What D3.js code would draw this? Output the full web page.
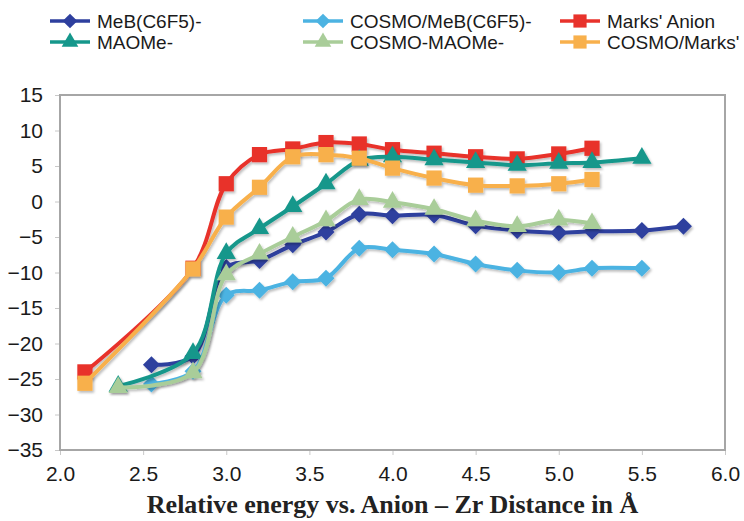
<!DOCTYPE html>
<html>
<head>
<meta charset="utf-8">
<script src="https://cdn.jsdelivr.net/npm/d3@7"></script>
<style>
  body { margin: 0; background: #fff; }
  text { font-family: "Liberation Sans", Arial, sans-serif; }
</style>
</head>
<body>
<div id="chart"></div>
<script>
// Series data (distance in Angstrom, relative energy)
var distMeB = [2.55, 2.8, 3.0, 3.2, 3.4, 3.6, 3.8, 4.0, 4.25, 4.5, 4.75, 5.0, 5.2, 5.5, 5.75];
var energyMeB = [-23.0, -21.8, -9.3, -8.3, -6.1, -4.3, -1.8, -2.0, -1.9, -3.4, -4.1, -4.4, -4.2, -4.1, -3.5];

var distCosmoMeB = [2.55, 2.8, 3.0, 3.2, 3.4, 3.6, 3.8, 4.0, 4.25, 4.5, 4.75, 5.0, 5.2, 5.5];
var energyCosmoMeB = [-25.7, -23.9, -13.2, -12.5, -11.3, -10.8, -6.6, -6.8, -7.4, -8.8, -9.7, -10.0, -9.4, -9.4];

var distMarks = [2.15, 2.8, 3.0, 3.2, 3.4, 3.6, 3.8, 4.0, 4.25, 4.5, 4.75, 5.0, 5.2];
var energyMarks = [-24.0, -9.4, 2.5, 6.6, 7.4, 8.3, 8.1, 7.3, 6.8, 6.3, 6.0, 6.7, 7.5];

var distMAOMe = [2.35, 2.8, 3.0, 3.2, 3.4, 3.6, 3.8, 4.0, 4.25, 4.5, 4.75, 5.0, 5.2, 5.5];
var energyMAOMe = [-26.0, -21.4, -7.3, -3.8, -0.7, 2.5, 5.8, 6.3, 5.9, 5.5, 5.1, 5.4, 5.5, 6.1];

var distCosmoMAOMe = [2.35, 2.8, 3.0, 3.2, 3.4, 3.6, 3.8, 4.0, 4.25, 4.5, 4.75, 5.0, 5.2];
var energyCosmoMAOMe = [-26.2, -24.1, -10.3, -7.4, -5.0, -2.7, 0.3, -0.1, -1.1, -2.7, -3.5, -2.6, -3.1];

var distCosmoMarks = [2.15, 2.8, 3.0, 3.2, 3.4, 3.6, 3.8, 4.0, 4.25, 4.5, 4.75, 5.0, 5.2];
var energyCosmoMarks = [-25.6, -9.5, -2.2, 2.0, 6.3, 6.6, 6.1, 4.7, 3.3, 2.3, 2.2, 2.5, 3.1];

var xTicks = [2.0, 2.5, 3.0, 3.5, 4.0, 4.5, 5.0, 5.5, 6.0];
var yTicks = [-35, -30, -25, -20, -15, -10, -5, 0, 5, 10, 15];

var seriesNames = ["MeB(C6F5)-", "COSMO/MeB(C6F5)-", "Marks' Anion", "MAOMe-", "COSMO-MAOMe-", "COSMO/Marks'"];
var seriesColors = ["#2e3f9e", "#4cb3e2", "#e8322b", "#15978b", "#a9cd99", "#f8b04c"];
var seriesMarkers = ["diamond", "diamond", "square", "triangle", "triangle", "square"];

var series = [
    {x: distMeB, y: energyMeB},
    {x: distCosmoMeB, y: energyCosmoMeB},
    {x: distMarks, y: energyMarks},
    {x: distMAOMe, y: energyMAOMe},
    {x: distCosmoMAOMe, y: energyCosmoMAOMe},
    {x: distCosmoMarks, y: energyCosmoMarks}
].map(function(s, i) {
    return {
        name: seriesNames[i],
        color: seriesColors[i],
        marker: seriesMarkers[i],
        points: s.x.map(function(d, j) { return {x: d, y: s.y[j]}; })
    };
});

var W = 744, H = 521;
var margin = {top: 95, right: 19, bottom: 71, left: 60};
var width = W - margin.left - margin.right,
    height = H - margin.top - margin.bottom;

var x = d3.scaleLinear().domain([2, 6]).range([0, width]);
var y = d3.scaleLinear().domain([-35, 15]).range([height, 0]);

var svg = d3.select("#chart").append("svg")
    .attr("width", W)
    .attr("height", H);

// soft grey drop shadow like the spreadsheet export
var defs = svg.append("defs");
var f = defs.append("filter").attr("id", "shadow")
    .attr("x", "-10%").attr("y", "-10%").attr("width", "120%").attr("height", "130%");
f.append("feDropShadow")
    .attr("dx", 1.5).attr("dy", 2).attr("stdDeviation", 1.2)
    .attr("flood-color", "#000").attr("flood-opacity", 0.25);

var g = svg.append("g")
    .attr("transform", "translate(" + margin.left + "," + margin.top + ")");

// axes (outer ticks only, light grey)
var xAxis = g.append("g")
    .attr("transform", "translate(0," + height + ")")
    .call(d3.axisBottom(x).tickValues(xTicks).tickFormat(d3.format(".1f")).tickSize(5).tickPadding(11));
var yAxis = g.append("g")
    .call(d3.axisLeft(y).tickValues(yTicks).tickSize(5).tickPadding(12));

[xAxis, yAxis].forEach(function(a) {
    a.select(".domain").remove();
    a.selectAll("line").attr("stroke", "#c8c8c8");
    a.selectAll("text")
        .attr("fill", "#1a1a1a")
        .style("font-family", "'Liberation Sans', Arial, sans-serif")
        .style("font-size", "21px");
});

// plot frame
g.append("rect")
    .attr("width", width)
    .attr("height", height)
    .attr("fill", "none")
    .attr("stroke", "#a6a6a6")
    .attr("stroke-width", 2);

var line = d3.line()
    .x(function(d) { return x(d.x); })
    .y(function(d) { return y(d.y); })
    .curve(d3.curveCatmullRom.alpha(0.5));

function markerPath(type, size) {
    if (type == "diamond") return d3.symbol().type(d3.symbolDiamond2).size(size * 1.15)();
    if (type == "triangle") return d3.symbol().type(d3.symbolTriangle).size(size)();
    return d3.symbol().type(d3.symbolSquare).size(size * 1.45)();
}

var sg = g.selectAll(".series")
    .data(series)
    .enter().append("g")
        .attr("class", "series")
        .attr("filter", "url(#shadow)");

sg.append("path")
    .attr("d", function(d) { return line(d.points); })
    .attr("fill", "none")
    .attr("stroke", function(d) { return d.color; })
    .attr("stroke-width", 4);

sg.each(function(s) {
    d3.select(this).selectAll(".pt")
        .data(s.points)
        .enter().append("path")
            .attr("class", "pt")
            .attr("transform", function(d) { return "translate(" + x(d.x) + "," + y(d.y) + ")"; })
            .attr("d", markerPath(s.marker, 160))
            .attr("fill", s.color);
});

// legend, 3 columns x 2 rows
var legendCols = [50, 303, 560];
var legendRows = [21, 42];
var legend = svg.selectAll(".legend")
    .data(series)
    .enter().append("g")
        .attr("class", "legend")
        .attr("transform", function(d, i) {
            return "translate(" + legendCols[i % 3] + "," + legendRows[Math.floor(i / 3)] + ")";
        });

legend.append("line")
    .attr("x1", 0).attr("x2", 40)
    .attr("stroke", function(d) { return d.color; })
    .attr("stroke-width", 3.5);
legend.append("path")
    .attr("transform", "translate(20,0)")
    .attr("d", function(d) { return markerPath(d.marker, 120); })
    .attr("fill", function(d) { return d.color; });
legend.append("text")
    .attr("x", 47)
    .attr("dy", "0.36em")
    .style("font-size", "19px")
    .attr("fill", "#1a1a1a")
    .text(function(d) { return d.name; });

// x axis title
svg.append("text")
    .attr("x", margin.left + width / 2)
    .attr("y", 513)
    .attr("text-anchor", "middle")
    .style("font-family", "'Liberation Serif', 'Times New Roman', serif")
    .style("font-weight", "bold")
    .style("font-size", "26px")
    .attr("fill", "#222")
    .text("Relative energy vs. Anion – Zr Distance in Å");
</script>
</body>
</html>
